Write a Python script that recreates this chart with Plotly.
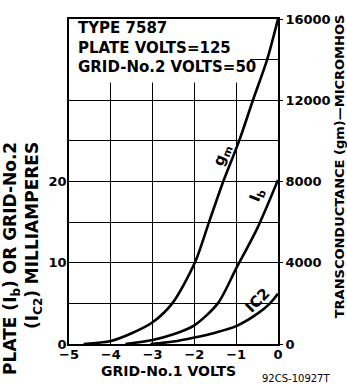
import plotly.graph_objects as go

# ---- data ----
grid_volts_gm = [-4.65, -4.0, -3.5, -3.0, -2.53, -1.99, -1.65, -1.31, -0.93, -0.6, -0.26, 0.0]
gm_micromhos = [0, 150, 530, 1070, 2000, 4000, 6000, 8000, 10000, 12000, 14000, 16000]

grid_volts_ib = [-3.65, -3.0, -2.5, -2.0, -1.44, -1.0, -0.5, 0.0]
ib_ma = [0.0, 0.5, 1.2, 2.3, 5.0, 9.3, 14.2, 20.2]

grid_volts_ic2 = [-3.05, -2.5, -2.0, -1.5, -1.0, -0.5, -0.19, 0.0]
ic2_ma = [0.0, 0.3, 0.8, 1.4, 2.2, 3.7, 5.0, 6.2]

x_ticks = [-5, -4, -3, -2, -1, 0]
x_ticktext = ["\u22125", "\u22124", "\u22123", "\u22122", "\u22121", "0"]
ma_ticks = [0, 5, 10, 15, 20, 25, 30, 35, 40]
ma_ticktext = ["0", " ", "10", " ", "20", " ", " ", " ", " "]
gm_ticks = [0, 4000, 8000, 12000, 16000]
gm_ticktext = ["0", "4000", "8000", "12000", "16000"]

heading_lines = ["TYPE 7587", "PLATE VOLTS=125", "GRID-No.2 VOLTS=50"]

W, H = 347, 384
L, R, T, B = 69, 278, 13, 344
FONT = "DejaVu Sans"


def px_x(p):
    return (p - L) / (R - L)


def px_y(p):
    return (B - p) / (B - T)


fig = go.Figure()
line = dict(color="black", width=2.6)
fig.add_trace(go.Scatter(x=grid_volts_gm, y=gm_micromhos, mode="lines", line=dict(line, shape="spline", smoothing=0.8), yaxis="y2", showlegend=False, hoverinfo="skip"))
fig.add_trace(go.Scatter(x=grid_volts_ib, y=ib_ma, mode="lines", line=dict(line, shape="spline", smoothing=0.8), showlegend=False, hoverinfo="skip"))
fig.add_trace(go.Scatter(x=grid_volts_ic2, y=ic2_ma, mode="lines", line=dict(line, shape="spline", smoothing=0.8), showlegend=False, hoverinfo="skip"))

tick_font = dict(family=FONT, size=13, color="black", weight="bold")
axis_common = dict(showline=True, linecolor="black", linewidth=1.6, zeroline=False, tickfont=tick_font)

fig.update_layout(
    width=W, height=H,
    margin=dict(l=L, r=W - R, t=T, b=H - B, pad=0),
    paper_bgcolor="white", plot_bgcolor="white",
    font=dict(family=FONT, color="black"),
    xaxis=dict(range=[-5, 0], tickvals=x_ticks, ticktext=x_ticktext, showgrid=True,
               gridcolor="black", gridwidth=1.2, mirror=True, ticks="", ticklabelstandoff=-2,
               **axis_common),
    yaxis=dict(range=[0, 40], tickvals=ma_ticks, ticktext=ma_ticktext, showgrid=True,
               gridcolor="black", gridwidth=1.2, mirror=True, ticks="", ticklabelstandoff=-2,
               **axis_common),
    yaxis2=dict(range=[0, 16000], overlaying="y", side="right", tickvals=gm_ticks,
                ticktext=gm_ticktext, showgrid=False, ticks="outside", ticklen=3,
                tickcolor="black", **axis_common),
)

# white panel hiding the grid behind the heading text
fig.add_shape(type="rect", xref="x", yref="y", x0=-5, x1=-0.67, y0=32.2, y1=40,
              fillcolor="white", line=dict(width=0), layer="between")

box_font = dict(family=FONT, size=15, color="black", weight="bold")
fig.add_annotation(text="<br>".join(heading_lines), xref="paper", yref="paper", x=px_x(76),
                   y=px_y(42.5), xanchor="left", yanchor="middle", align="left",
                   showarrow=False, font=box_font)

title_font = dict(family=FONT, size=14, color="black", weight="bold")
fig.add_annotation(text="PLATE (I<sub>b</sub>) OR GRID-No.2<br>(I<sub>C2</sub>) MILLIAMPERES",
                   xref="paper", yref="paper", x=px_x(23), y=px_y(378), xanchor="center",
                   yanchor="bottom", textangle=-90, align="right", showarrow=False,
                   font=dict(title_font, size=17))
fig.add_annotation(text="TRANSCONDUCTANCE (gm)\u2014MICROMHOS", xref="paper", yref="paper",
                   x=px_x(339), y=px_y(163), xanchor="center", yanchor="middle", textangle=-90,
                   showarrow=False, font=dict(title_font, size=13))
fig.add_annotation(text="GRID-No.1 VOLTS", xref="paper", yref="paper", x=px_x(168), y=px_y(372),
                   xanchor="center", yanchor="middle", showarrow=False, font=title_font)
fig.add_annotation(text="92CS-10927T", xref="paper", yref="paper", x=px_x(296), y=px_y(379),
                   xanchor="center", yanchor="middle", showarrow=False,
                   font=dict(family=FONT, size=10, color="black"))

# curve labels
label_font = dict(family=FONT, size=15, color="black", weight="bold")
fig.add_annotation(text="g<sub>m</sub>", x=-1.33, y=23.3, xref="x", yref="y", textangle=-68,
                   showarrow=False, font=label_font)
fig.add_annotation(text="I<sub>b</sub>", x=-0.5, y=18.4, xref="x", yref="y", textangle=-68,
                   showarrow=False, font=label_font)
fig.add_annotation(text="IC2", x=-0.48, y=5.4, xref="x", yref="y", textangle=-45,
                   showarrow=False, font=label_font)

fig.write_html("out.html", config={"displayModeBar": False},
               post_script="document.body.style.margin='0px';document.body.style.padding='0px';")
